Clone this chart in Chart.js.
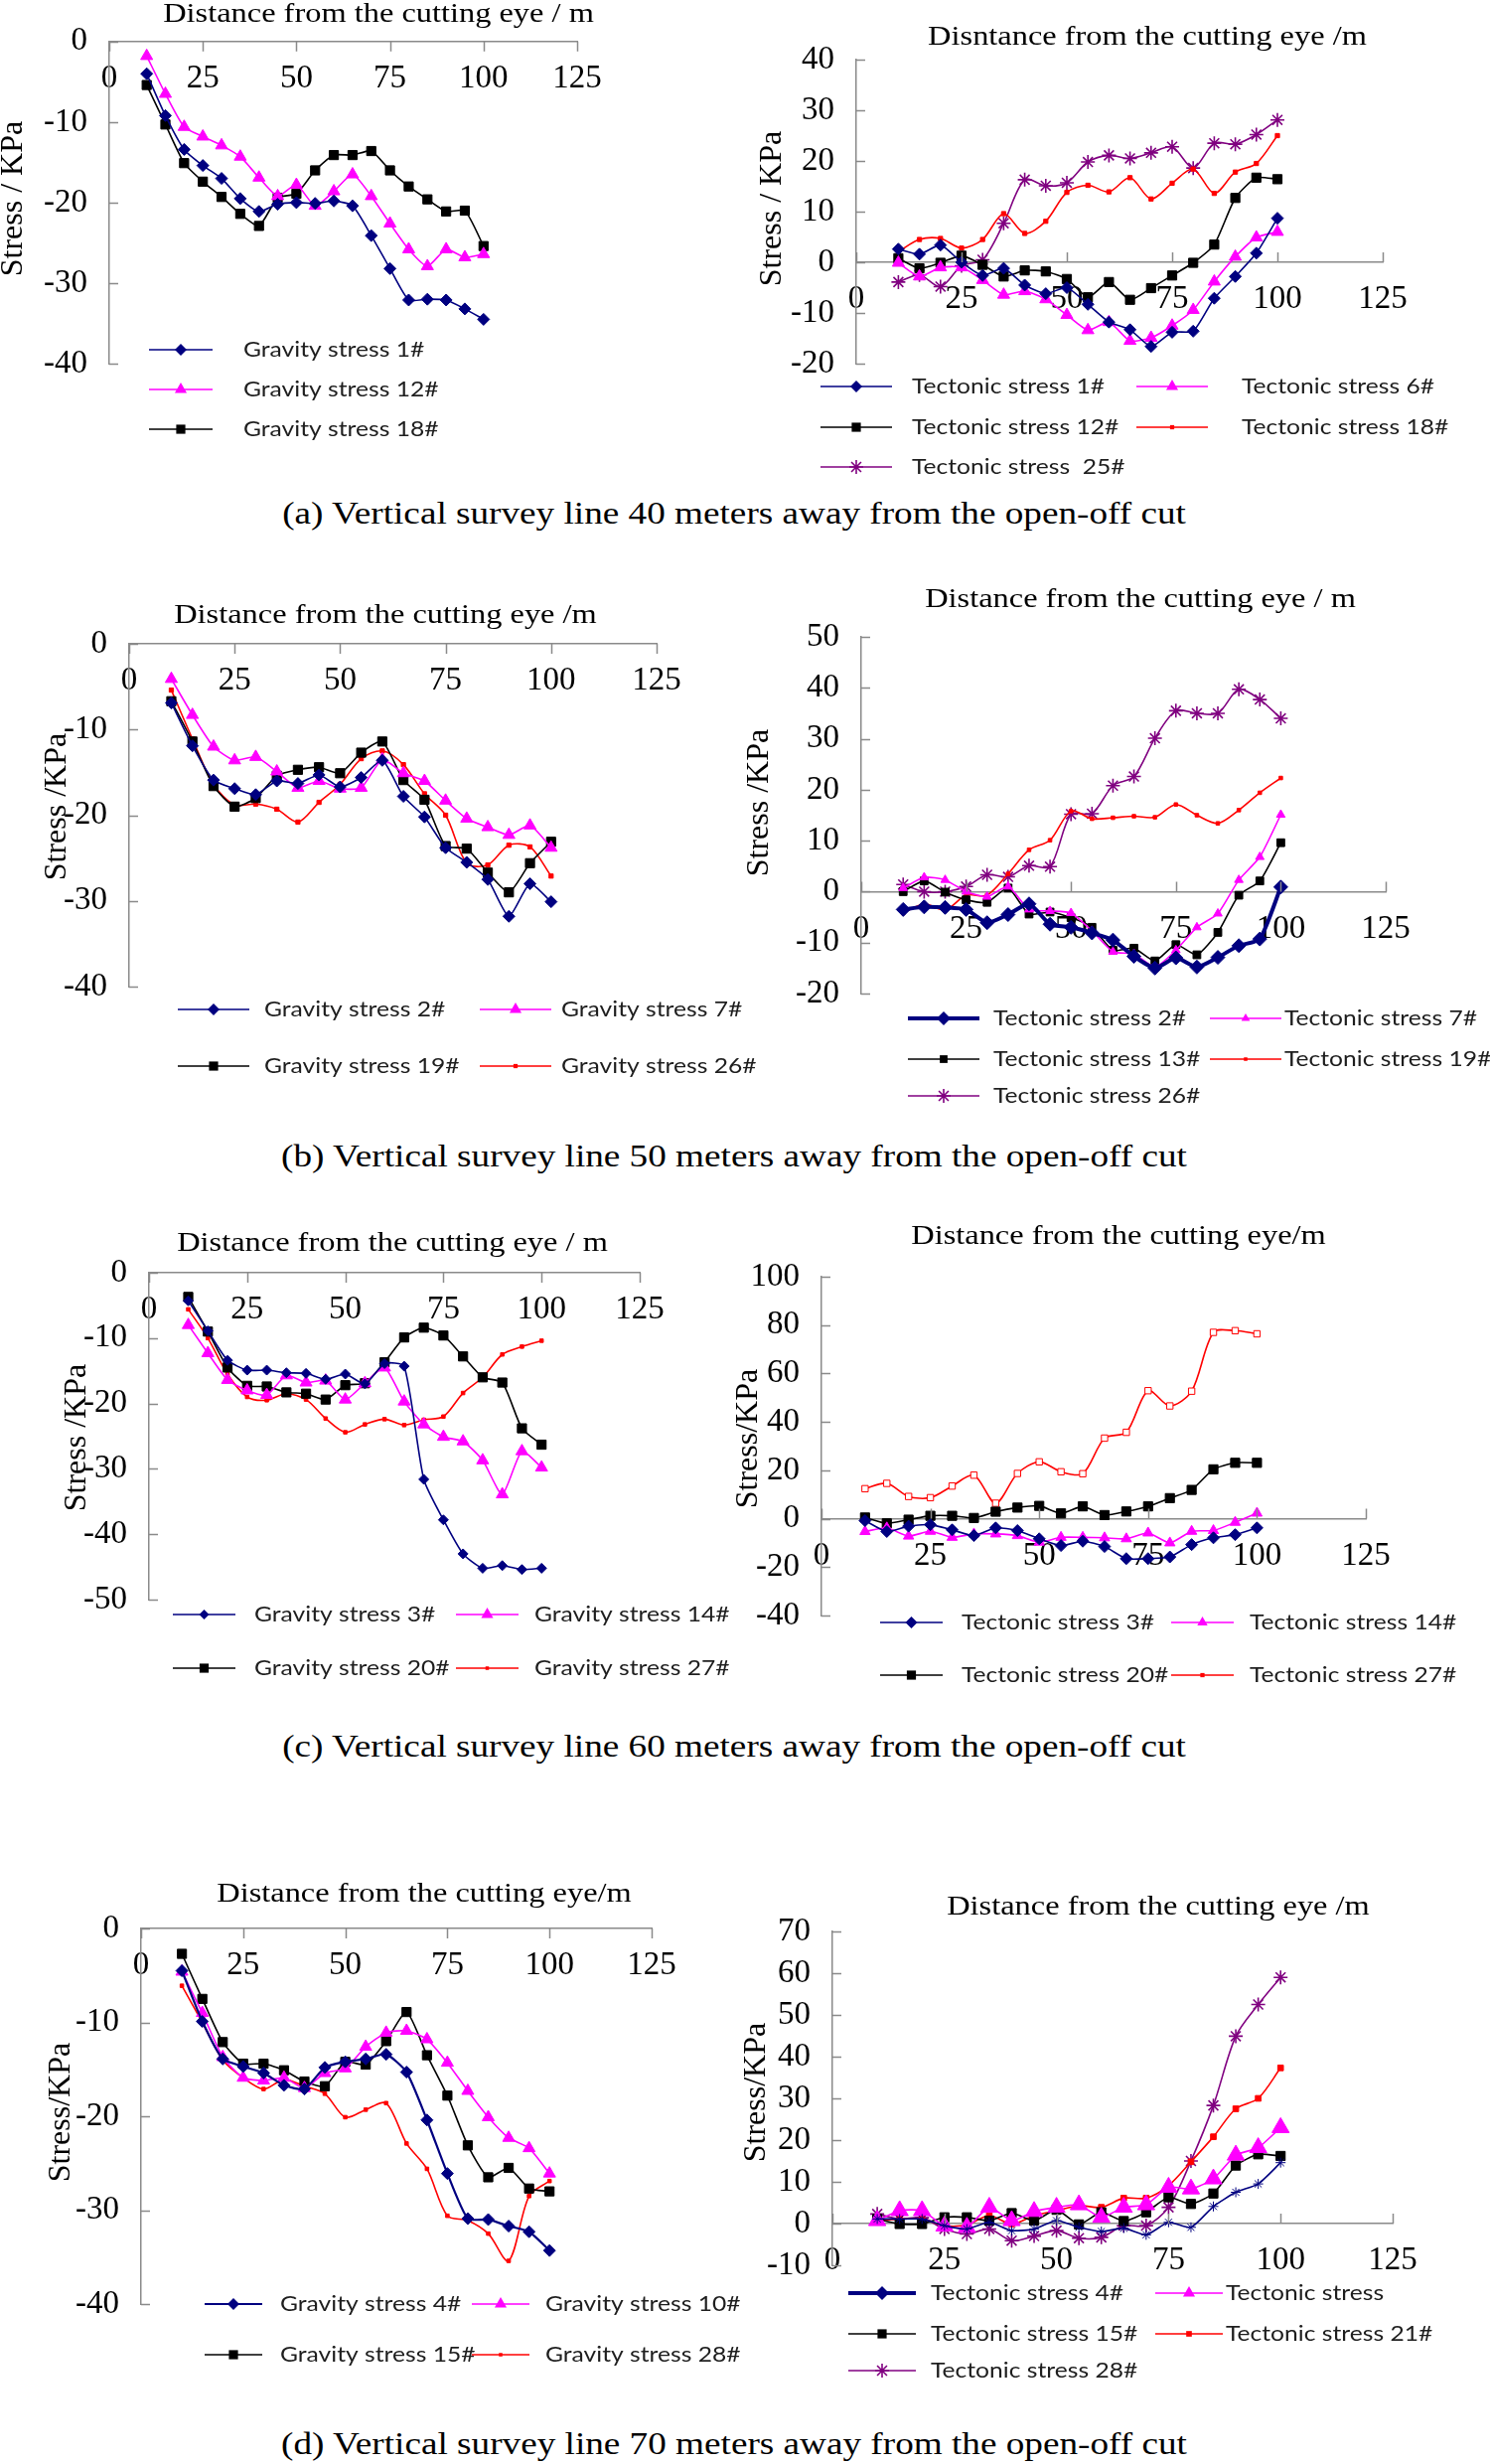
<!DOCTYPE html>
<html>
<head>
<meta charset="utf-8">
<script src="https://cdn.jsdelivr.net/npm/chart.js@4.4.1/dist/chart.umd.min.js"></script>
<style>
  body { margin: 0; background: #fff; width: 1500px; height: 2480px; position: relative; overflow: hidden; }
  canvas { position: absolute; }
  .cap { position: absolute; left: 0; width: 1478px; text-align: center; font-family: 'Liberation Serif', 'Times New Roman', serif;
         font-size: 31px; line-height: 31px; color: #000; transform: scaleX(1.2); white-space: nowrap; }
</style>
</head>
<body>
<div class="cap" style="top:501px">(a) Vertical survey line 40 meters away from the open-off cut</div>
<div class="cap" style="top:1148px">(b) Vertical survey line 50 meters away from the open-off cut</div>
<div class="cap" style="top:1742px">(c) Vertical survey line 60 meters away from the open-off cut</div>
<div class="cap" style="top:2444px">(d) Vertical survey line 70 meters away from the open-off cut</div>
<script>
// distance from the cutting eye (m)
const distance = [10, 15, 20, 25, 30, 35, 40, 45, 50, 55, 60, 65, 70, 75, 80, 85, 90, 95, 100];
const xTicks = [0, 25, 50, 75, 100, 125];

// (a) 40 m
const gravA1  = [-4.0, -9.2, -13.4, -15.4, -17.0, -19.5, -21.1, -20.2, -20.0, -20.1, -19.8, -20.4, -24.1, -28.2, -32.1, -32.0, -32.1, -33.2, -34.5];
const gravA12 = [-1.8, -6.5, -10.6, -11.8, -12.9, -14.3, -16.9, -19.2, -17.8, -20.4, -18.6, -16.5, -19.2, -22.6, -25.8, -27.9, -25.8, -26.8, -26.4];
const gravA18 = [-5.4, -10.3, -15.1, -17.4, -19.3, -21.4, -22.9, -19.4, -18.9, -16.0, -14.1, -14.1, -13.6, -16.0, -18.0, -19.6, -21.1, -21.0, -25.4];
const tecA1  = [2.6, 1.6, 3.4, 0.0, -2.6, -1.2, -4.5, -6.2, -5.0, -8.3, -11.8, -13.3, -16.6, -13.8, -13.6, -7.1, -2.8, 1.8, 8.7];
const tecA6  = [-0.1, -2.8, -1.0, -1.0, -3.5, -6.4, -5.7, -7.3, -10.4, -13.4, -11.8, -15.5, -14.9, -12.5, -9.4, -3.8, 1.1, 4.9, 6.0];
const tecA12 = [0.8, -1.2, -0.1, 1.3, -0.5, -2.8, -1.6, -1.8, -3.3, -6.9, -3.9, -7.4, -5.1, -2.6, -0.1, 3.5, 12.7, 16.7, 16.4];
const tecA18 = [2.1, 4.5, 4.7, 2.8, 4.5, 9.6, 5.7, 8.1, 13.8, 15.2, 13.9, 16.7, 12.5, 15.6, 18.4, 13.6, 17.8, 19.5, 25.0];
const tecA25 = [-3.9, -2.5, -4.8, -0.7, 0.5, 7.7, 16.3, 15.1, 15.7, 19.8, 21.1, 20.5, 21.6, 22.8, 18.6, 23.5, 23.3, 25.2, 28.1];

// (b) 50 m
const gravB2  = [-6.9, -11.9, -15.9, -16.9, -17.6, -16.0, -16.3, -15.3, -16.7, -15.6, -13.6, -17.8, -20.2, -23.8, -25.5, -27.5, -31.8, -28.0, -30.1];
const gravB7  = [-4.1, -8.3, -12.0, -13.6, -13.2, -14.9, -16.8, -16.0, -16.9, -16.8, -13.5, -15.1, -16.0, -18.3, -20.4, -21.4, -22.3, -21.2, -23.8];
const gravB19 = [-6.7, -11.4, -16.6, -19.0, -18.0, -15.4, -14.7, -14.4, -15.1, -12.7, -11.4, -15.9, -18.2, -23.6, -23.9, -26.7, -29.0, -25.6, -23.1];
const gravB26 = [-5.4, -11.1, -16.4, -18.8, -18.7, -19.3, -20.8, -18.5, -16.4, -13.4, -12.5, -14.1, -17.5, -20.0, -25.6, -25.8, -23.5, -23.7, -27.1];
const tecB2  = [-3.5, -3.0, -3.1, -3.5, -6.1, -4.5, -2.4, -6.4, -7.0, -8.1, -9.5, -12.7, -15.0, -13.0, -14.8, -12.9, -10.6, -9.3, 0.9];
const tecB7  = [0.7, 2.8, 2.3, 0.0, -1.0, 1.0, -3.5, -3.8, -4.2, -7.7, -11.8, -12.2, -14.8, -11.5, -7.0, -4.3, 2.3, 6.8, 15.1];
const tecB13 = [0.0, 2.1, -0.1, -1.6, -2.1, 0.7, -4.4, -4.0, -5.1, -7.0, -11.5, -11.1, -13.6, -10.4, -12.4, -8.0, -0.7, 2.1, 9.6];
const tecB19 = [-4.2, -2.4, -3.6, -0.7, -0.7, 3.5, 8.2, 10.1, 15.8, 14.3, 14.5, 14.8, 14.6, 17.1, 15.0, 13.4, 16.0, 19.4, 22.3];
const tecB26 = [1.4, 0.0, 0.0, 1.0, 3.3, 2.9, 5.1, 4.9, 15.2, 15.3, 20.8, 22.6, 30.1, 35.5, 35.0, 35.0, 39.7, 37.7, 34.0];

// (c) 60 m
const gravC3  = [-4.3, -8.9, -13.4, -14.9, -14.9, -15.3, -15.4, -16.3, -15.5, -17.0, -13.9, -14.3, -31.6, -37.8, -43.0, -45.2, -44.8, -45.4, -45.2];
const gravC14 = [-8.0, -12.3, -16.4, -18.0, -18.7, -15.7, -16.8, -16.5, -19.4, -16.9, -14.5, -19.7, -23.2, -25.1, -25.8, -28.7, -33.9, -27.3, -29.8];
const gravC20 = [-3.7, -9.0, -14.5, -17.3, -17.4, -18.3, -18.5, -19.4, -17.2, -16.9, -13.7, -9.9, -8.4, -9.6, -12.8, -16.0, -16.8, -23.8, -26.3];
const gravC27 = [-5.6, -10.0, -15.5, -19.0, -19.5, -18.5, -19.4, -22.3, -24.4, -23.2, -22.4, -23.3, -22.5, -22.0, -18.4, -16.0, -12.5, -11.3, -10.4];
const tecC3  = [-0.8, -5.3, -3.1, -2.5, -4.6, -7.0, -3.8, -4.9, -8.3, -11.1, -9.3, -11.5, -16.5, -16.5, -15.8, -10.7, -7.9, -6.6, -3.8];
const tecC14 = [-5.3, -3.8, -7.2, -5.2, -7.7, -6.3, -6.3, -7.0, -9.7, -7.7, -7.7, -7.9, -8.3, -5.9, -10.0, -5.2, -4.9, -1.5, 2.3];
const tecC20 = [0.5, -1.9, -0.4, 1.2, 1.2, 0.3, 2.9, 4.6, 5.3, 2.2, 5.1, 1.5, 3.0, 5.1, 8.5, 11.9, 20.4, 23.1, 23.1];
const tecC27 = [12.4, 14.6, 9.2, 8.7, 13.5, 18.0, 6.4, 18.7, 23.5, 19.4, 18.6, 33.3, 35.7, 52.9, 46.6, 52.7, 77.0, 77.7, 76.4];

// (d) 70 m
const gravD4  = [-4.5, -9.9, -13.9, -14.7, -15.4, -16.7, -17.1, -14.8, -14.2, -13.9, -13.4, -15.3, -20.4, -26.1, -30.9, -31.0, -31.7, -32.3, -34.3];
const gravD10 = [-4.6, -9.0, -13.7, -15.9, -16.2, -15.9, -17.0, -15.4, -14.9, -12.6, -11.1, -10.9, -11.8, -14.3, -17.3, -20.1, -22.3, -23.4, -26.1];
const gravD15 = [-2.7, -7.5, -12.1, -14.4, -14.4, -15.1, -16.3, -16.8, -14.2, -14.5, -12.0, -8.9, -13.5, -17.8, -23.1, -26.5, -25.5, -27.7, -28.0];
const gravD28 = [-6.1, -10.0, -14.0, -15.9, -17.1, -16.1, -16.8, -17.6, -20.1, -19.3, -18.6, -22.9, -25.6, -30.6, -31.1, -32.5, -35.4, -28.5, -26.9];
const tecD4  = [1.1, 1.1, 1.1, -0.5, -1.3, 0.3, -1.7, -1.3, 0.7, -0.9, -1.9, -1.1, -2.7, 0.3, -0.9, 4.1, 7.5, 9.5, 14.6];
const tecD10 = [0.7, 3.1, 3.1, -0.6, -0.9, 3.9, 0.7, 2.9, 3.9, 4.5, 1.5, 3.9, 4.5, 8.7, 8.3, 10.7, 16.4, 18.2, 23.0];
const tecD15 = [1.1, -0.1, -0.1, 1.5, 1.5, 0.7, 2.5, 0.7, 3.3, -0.2, 2.7, 0.6, 2.7, 6.3, 4.7, 7.2, 13.9, 16.6, 16.2];
const tecD21 = [0.7, 1.1, 1.1, -0.5, -0.3, 1.9, -0.1, 1.9, 3.1, 4.3, 3.9, 6.1, 6.1, 9.1, 14.8, 20.8, 27.5, 30.0, 37.3];
const tecD28 = [2.3, 1.1, 1.4, -1.3, -2.5, -1.3, -4.1, -3.0, -1.7, -3.5, -3.3, -0.5, -0.5, 3.9, 15.0, 28.3, 44.9, 52.5, 59.0];

// y tick labels
const yTicks40  = [0, -10, -20, -30, -40];
const yTicks50  = [0, -10, -20, -30, -40, -50];
const yTicksA_R = [40, 30, 20, 10, 0, -10, -20];
const yTicksB_R = [50, 40, 30, 20, 10, 0, -10, -20];
const yTicksC_R = [100, 80, 60, 40, 20, 0, -20, -40];
const yTicksD_R = [70, 60, 50, 40, 30, 20, 10, 0, -10];

const AXIS = '#8a8a8a';
const SERIF = "'Liberation Serif', 'Times New Roman', serif";
const SANS = "Lato, 'Open Sans', sans-serif";

const NAVY = { color: '#000080', point: 'rectRot', radius: 6 };
const MAG  = { color: '#ff00ff', point: 'triangle', radius: 7 };
const BLK  = { color: '#000000', point: 'rect', radius: 6.5 };
const RED  = { color: '#ff0000', point: 'rect', radius: 3 };
const PUR  = { color: '#800080', point: 'star', radius: 7 };

function ds(label, values, st, extra) {
  return Object.assign({
    label: label,
    data: values.map((v, i) => ({ x: distance[i], y: v })),
    borderColor: st.color,
    backgroundColor: st.color,
    pointBackgroundColor: st.color,
    pointBorderColor: st.color,
    pointStyle: st.point,
    pointRadius: st.radius,
    pointBorderWidth: st.point === 'star' ? 1.6 : 1,
    borderWidth: 1.6,
    tension: st === RED || st === PUR ? 0.3 : 0.2,
    clip: false
  }, extra || {});
}

const panels = [
  { box: [0, 0, 770, 490], area: [110, 38, 581, 366], yRange: [-40, 0], yTicks: yTicks40, xTickDir: 1,
    title: 'Distance from the cutting eye / m', titleAt: [381, 15],
    yTitle: 'Stress / KPa', yTitleAt: [14, 200], legLen: 64,
    series: [ds('Gravity stress 1#', gravA1, NAVY), ds('Gravity stress 12#', gravA12, MAG), ds('Gravity stress 18#', gravA18, BLK)],
    legend: [[150, 352, 245], [150, 392, 245], [150, 432, 245]] },
  { box: [715, 0, 785, 500], area: [862, 60, 1392, 366], yRange: [-20, 40], yTicks: yTicksA_R, xTickDir: -1,
    title: 'Disntance from the cutting eye /m', titleAt: [1155, 38],
    yTitle: 'Stress / KPa', yTitleAt: [778, 210], legLen: 72,
    series: [ds('Tectonic stress 1#', tecA1, NAVY), ds('Tectonic stress 6#', tecA6, MAG), ds('Tectonic stress 12#', tecA12, BLK),
             ds('Tectonic stress 18#', tecA18, RED), ds('Tectonic stress  25#', tecA25, PUR)],
    legend: [[826, 389, 918], [1144, 389, 1250], [826, 430, 918], [1144, 430, 1250], [826, 470, 918]] },
  { box: [0, 570, 770, 560], area: [130, 648, 661, 993], yRange: [-40, 0], yTicks: yTicks40, xTickDir: 1,
    title: 'Distance from the cutting eye /m', titleAt: [388, 620],
    yTitle: 'Stress /KPa', yTitleAt: [58, 812], legLen: 72,
    series: [ds('Gravity stress 2#', gravB2, NAVY), ds('Gravity stress 7#', gravB7, MAG),
             ds('Gravity stress 19#', gravB19, BLK), ds('Gravity stress 26#', gravB26, RED)],
    legend: [[179, 1016, 266], [483, 1016, 565], [179, 1073, 266], [483, 1073, 565]] },
  { box: [715, 570, 785, 560], area: [867, 641, 1395, 1000], yRange: [-20, 50], yTicks: yTicksB_R, xTickDir: -1,
    title: 'Distance from the cutting eye / m', titleAt: [1148, 604],
    yTitle: 'Stress /KPa', yTitleAt: [765, 808], legLen: 72,
    series: [ds('Tectonic stress 2#', tecB2, NAVY, { borderWidth: 4, pointRadius: 7 }),
             ds('Tectonic stress 7#', tecB7, MAG, { pointRadius: 5 }),
             ds('Tectonic stress 13#', tecB13, BLK, { pointRadius: 5.5 }),
             ds('Tectonic stress 19#', tecB19, RED, { pointRadius: 2.5 }),
             ds('Tectonic stress 26#', tecB26, PUR)],
    legend: [[914, 1025, 1000], [1218, 1025, 1293], [914, 1066, 1000], [1218, 1066, 1293], [914, 1103, 1000]] },
  { box: [0, 1200, 770, 540], area: [150, 1281, 644, 1610], yRange: [-50, 0], yTicks: yTicks50, xTickDir: 1,
    title: 'Distance from the cutting eye / m', titleAt: [395, 1252],
    yTitle: 'Stress /KPa', yTitleAt: [78, 1447], legLen: 63,
    series: [ds('Gravity stress 3#', gravC3, NAVY, { pointRadius: 5 }), ds('Gravity stress 14#', gravC14, MAG),
             ds('Gravity stress 20#', gravC20, BLK), ds('Gravity stress 27#', gravC27, RED, { pointRadius: 2.5 })],
    legend: [[174, 1625, 256], [459, 1625, 538], [174, 1679, 256], [459, 1679, 538]] },
  { box: [715, 1200, 785, 540], area: [827, 1285, 1375, 1626], yRange: [-40, 100], yTicks: yTicksC_R, xTickDir: -1,
    title: 'Distance from the cutting eye/m', titleAt: [1126, 1245],
    yTitle: 'Stress/KPa', yTitleAt: [754, 1448], legLen: 63,
    series: [ds('Tectonic stress 3#', tecC3, NAVY), ds('Tectonic stress 14#', tecC14, MAG, { pointRadius: 6 }),
             ds('Tectonic stress 20#', tecC20, BLK),
             ds('Tectonic stress 27#', tecC27, RED, { pointRadius: 4.5, pointBackgroundColor: '#ffffff', legendRadius: 3 })],
    legend: [[886, 1633, 968], [1179, 1633, 1258], [886, 1686, 968], [1179, 1686, 1258]] },
  { box: [0, 1860, 770, 560], area: [142, 1941, 656, 2319], yRange: [-40, 0], yTicks: yTicks40, xTickDir: 1,
    title: 'Distance from the cutting eye/m', titleAt: [427, 1907],
    yTitle: 'Stress/KPa', yTitleAt: [62, 2126], legLen: 58,
    series: [ds('Gravity stress 4#', gravD4, NAVY, { borderWidth: 2.2 }), ds('Gravity stress 10#', gravD10, MAG),
             ds('Gravity stress 15#', gravD15, BLK), ds('Gravity stress 28#', gravD28, RED, { pointRadius: 2.5 })],
    legend: [[206, 2319, 282], [475, 2319, 549], [206, 2370, 282], [475, 2370, 549]] },
  { box: [715, 1860, 785, 560], area: [838, 1944, 1402, 2280], yRange: [-10, 70], yTicks: yTicksD_R, xTickDir: -1,
    title: 'Distance from the cutting eye /m', titleAt: [1166, 1920],
    yTitle: 'Stress/KPa', yTitleAt: [762, 2106], legLen: 68,
    series: [ds('Tectonic stress 4#', tecD4, NAVY, { pointStyle: 'star', pointRadius: 5, legendPoint: 'rectRot', legendWidth: 4, legendRadius: 7 }),
             ds('Tectonic stress', tecD10, MAG, { pointRadius: 10, legendRadius: 7 }),
             ds('Tectonic stress 15#', tecD15, BLK),
             ds('Tectonic stress 21#', tecD21, RED, { pointRadius: 4 }),
             ds('Tectonic stress 28#', tecD28, PUR)],
    legend: [[854, 2308, 937], [1163, 2308, 1234], [854, 2349, 937], [1163, 2349, 1234], [854, 2386, 937]] }
];

function marker(ctx, style, x, y, r) {
  ctx.beginPath();
  if (style === 'rectRot') {
    ctx.moveTo(x, y - r); ctx.lineTo(x + r, y); ctx.lineTo(x, y + r); ctx.lineTo(x - r, y); ctx.closePath();
    ctx.fill();
  } else if (style === 'triangle') {
    ctx.moveTo(x, y - r); ctx.lineTo(x + r * 0.866, y + r * 0.5); ctx.lineTo(x - r * 0.866, y + r * 0.5); ctx.closePath();
    ctx.fill();
  } else if (style === 'rect') {
    const s = r * Math.SQRT1_2;
    ctx.rect(x - s, y - s, 2 * s, 2 * s);
    ctx.fill();
  } else if (style === 'star') {
    for (let k = 0; k < 4; k++) {
      const a = k * Math.PI / 4;
      ctx.moveTo(x + Math.cos(a) * r, y + Math.sin(a) * r);
      ctx.lineTo(x - Math.cos(a) * r, y - Math.sin(a) * r);
    }
    ctx.stroke();
  }
}

function stretchText(ctx, text, x, y, font, sx, align) {
  ctx.save();
  ctx.translate(x, y);
  ctx.scale(sx, 1);
  ctx.font = font;
  ctx.textAlign = align;
  ctx.textBaseline = 'middle';
  ctx.fillText(text, 0, 0);
  ctx.restore();
}

// ticks, titles and legend
function decor(p) {
  return {
    id: 'decor',
    afterDraw(chart) {
      const ctx = chart.ctx;
      const bx = p.box[0], by = p.box[1];
      const xs = chart.scales.x, ys = chart.scales.y;
      const y0 = ys.getPixelForValue(0);
      ctx.save();
      ctx.strokeStyle = AXIS;
      ctx.lineWidth = 1.5;
      ctx.beginPath();
      xTicks.forEach(v => {
        const px = Math.round(xs.getPixelForValue(v)) + 0.5;
        ctx.moveTo(px, y0); ctx.lineTo(px, y0 + p.xTickDir * 10);
      });
      p.yTicks.forEach(v => {
        const py = Math.round(ys.getPixelForValue(v)) + 0.5;
        ctx.moveTo(xs.left, py); ctx.lineTo(xs.left + 9, py);
      });
      ctx.stroke();

      ctx.fillStyle = '#000';
      stretchText(ctx, p.title, p.titleAt[0] - bx, p.titleAt[1] - by, '27px ' + SERIF, 1.2, 'center');

      ctx.save();
      ctx.translate(p.yTitleAt[0] - bx, p.yTitleAt[1] - by);
      ctx.rotate(-Math.PI / 2);
      ctx.font = '32px ' + SERIF;
      ctx.textAlign = 'center';
      ctx.textBaseline = 'middle';
      ctx.fillText(p.yTitle, 0, 0);
      ctx.restore();

      chart.data.datasets.forEach((d, i) => {
        const [lx, ly, tx] = p.legend[i];
        const x1 = lx - bx, y = ly - by;
        ctx.strokeStyle = d.borderColor;
        ctx.fillStyle = d.borderColor;
        ctx.lineWidth = d.legendWidth || d.borderWidth;
        ctx.beginPath();
        ctx.moveTo(x1, y); ctx.lineTo(x1 + p.legLen, y);
        ctx.stroke();
        ctx.lineWidth = 1.6;
        marker(ctx, d.legendPoint || d.pointStyle, x1 + p.legLen / 2, y, d.legendRadius || d.pointRadius);
        ctx.fillStyle = '#1e1e1e';
        stretchText(ctx, d.label, tx - bx, y, '22px ' + SANS, 1.12, 'left');
      });
      ctx.restore();
    }
  };
}

panels.forEach(p => {
  const [bx, by, bw, bh] = p.box;
  const [l, t, r, b] = p.area;
  const yW = 80;
  const c = document.createElement('canvas');
  c.width = bw; c.height = bh;
  c.style.left = bx + 'px'; c.style.top = by + 'px';
  c.style.width = bw + 'px'; c.style.height = bh + 'px';
  document.body.appendChild(c);

  new Chart(c, {
    type: 'line',
    data: { datasets: p.series },
    options: {
      responsive: false,
      animation: false,
      devicePixelRatio: 1,
      layout: { padding: { left: l - bx - yW, top: t - by, right: bx + bw - r, bottom: by + bh - b } },
      plugins: { legend: { display: false }, tooltip: { enabled: false }, title: { display: false } },
      scales: {
        x: {
          type: 'linear', position: { y: 0 }, min: 0, max: 125,
          afterBuildTicks: s => { s.ticks = xTicks.map(v => ({ value: v })); },
          grid: { display: true, drawOnChartArea: false, drawTicks: false },
          border: { display: true, color: AXIS, width: 1.5 },
          ticks: { padding: 18, autoSkip: false, maxRotation: 0, color: '#000', font: { family: SERIF, size: 33 } }
        },
        y: {
          type: 'linear', position: 'left', min: p.yRange[0], max: p.yRange[1],
          afterBuildTicks: s => { s.ticks = p.yTicks.map(v => ({ value: v })); },
          afterFit: s => { s.width = yW; },
          grid: { display: true, drawOnChartArea: false, drawTicks: false },
          border: { display: true, color: AXIS, width: 1.5 },
          ticks: { padding: 22, autoSkip: false, color: '#000', font: { family: SERIF, size: 33 } }
        }
      }
    },
    plugins: [decor(p)]
  });
});
</script>
</body>
</html>
